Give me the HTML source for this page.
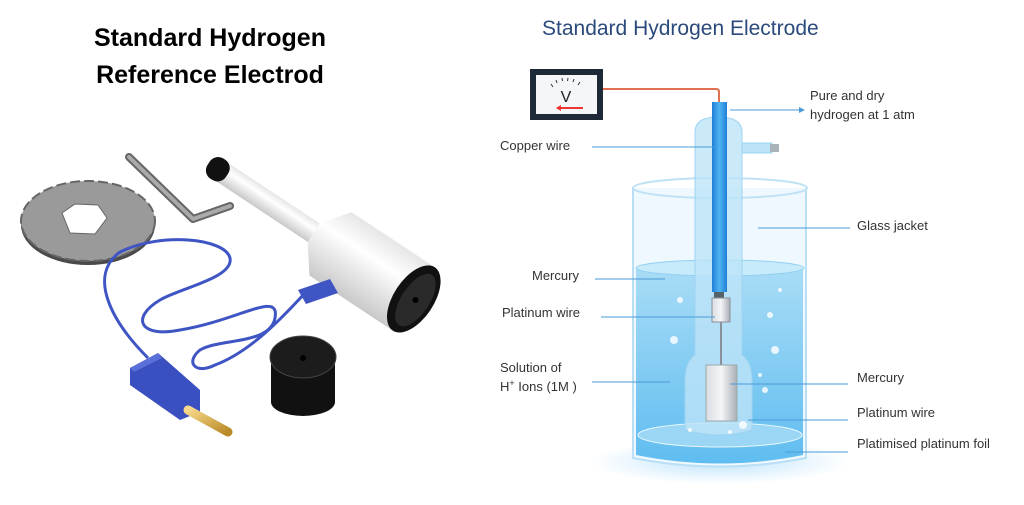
<!DOCTYPE html>
<html><head><meta charset="utf-8"><style>
html,body{margin:0;padding:0;background:#fff;}
svg{display:block;}
text{font-family:"Liberation Sans",sans-serif;}
</style></head><body>
<svg width="1024" height="505" viewBox="0 0 1024 505" xmlns="http://www.w3.org/2000/svg">
<defs>
<linearGradient id="tube" x1="0" x2="1"><stop offset="0" stop-color="#1f7fd6"/><stop offset="0.5" stop-color="#4fb4f2"/><stop offset="1" stop-color="#1f7fd6"/></linearGradient>
<linearGradient id="water" x1="0" y1="0" x2="0" y2="1"><stop offset="0" stop-color="#a9dcf6"/><stop offset="1" stop-color="#5fbdf0"/></linearGradient>
<linearGradient id="cyl" x1="0" x2="0" y1="0" y2="1"><stop offset="0" stop-color="#e6e6e6"/><stop offset="0.35" stop-color="#ffffff"/><stop offset="1" stop-color="#c9c9c9"/></linearGradient>
<linearGradient id="metal" x1="0" x2="1"><stop offset="0" stop-color="#d9dde2"/><stop offset="0.5" stop-color="#f4f5f7"/><stop offset="1" stop-color="#a9afb6"/></linearGradient>
<linearGradient id="gold" x1="0" x2="1" y1="0" y2="1"><stop offset="0" stop-color="#f7d98a"/><stop offset="1" stop-color="#b98a28"/></linearGradient>
<radialGradient id="glow" cx="0.5" cy="0.5" r="0.5"><stop offset="0" stop-color="#bfe4fb"/><stop offset="1" stop-color="#fff"/></radialGradient>
</defs>
<rect width="1024" height="505" fill="#fff"/>

<!-- LEFT -->
<text x="210" y="46" font-size="25" font-weight="bold" text-anchor="middle" fill="#000">Standard Hydrogen</text>
<text x="210" y="83" font-size="25" font-weight="bold" text-anchor="middle" fill="#000">Reference Electrod</text>

<!-- washer -->
<ellipse cx="88" cy="225" rx="67" ry="40" fill="#4a4a4a"/>
<ellipse cx="88" cy="221" rx="67" ry="40" fill="#9a9a9a" stroke="#666" stroke-dasharray="10 4" stroke-width="2"/>
<polygon points="62,213 75,204 98,205 107,218 95,234 70,233" fill="#fff" stroke="#666"/>
<!-- allen key -->
<polyline points="129,157 193,219 230,206" fill="none" stroke="#666" stroke-width="8" stroke-linejoin="round" stroke-linecap="round"/>
<polyline points="129,157 193,219 230,206" fill="none" stroke="#aaa" stroke-width="4" stroke-linejoin="round" stroke-linecap="round"/>
<!-- probe -->
<g transform="translate(222,172) rotate(33.5)">
<rect x="0" y="-11" width="120" height="22" fill="url(#cyl)"/>
<path d="M110,-11 L130,-38 L230,-38 L230,38 L130,38 L110,11 Z" fill="url(#cyl)"/>
<rect x="-16" y="-12" width="22" height="24" rx="10" fill="#111"/>
<ellipse cx="230" cy="0" rx="20" ry="38" fill="#111"/>
<ellipse cx="232" cy="0" rx="14" ry="30" fill="#2a2a2a"/>
<circle cx="232" cy="0" r="3" fill="#000"/>
</g>
<!-- cable -->
<path d="M148,358 C110,320 88,275 120,252 C160,232 225,238 230,258 C234,278 180,288 160,300 C130,318 140,338 180,330 C240,320 280,290 275,318 C270,345 220,338 200,350 C185,362 195,375 215,365 C250,352 282,318 305,293" fill="none" stroke="#3f55c4" stroke-width="3"/>
<polygon points="298,290 330,279 338,293 306,304" fill="#3f55c4"/>
<!-- banana plug -->
<polygon points="130,368 158,353 200,390 200,412 180,420 130,385" fill="#3a4fc0"/>
<polygon points="130,368 158,353 162,358 134,372" fill="#5a6fd8"/>
<line x1="188" y1="410" x2="228" y2="432" stroke="url(#gold)" stroke-width="9" stroke-linecap="round"/>
<!-- black knob -->
<rect x="271" y="357" width="64" height="45" fill="#111"/>
<ellipse cx="303" cy="402" rx="32" ry="14" fill="#111"/>
<ellipse cx="303" cy="357" rx="33" ry="21" fill="#1c1c1c" stroke="#444"/>
<circle cx="303" cy="358" r="3" fill="#000"/>

<!-- RIGHT -->
<text x="542" y="35" font-size="21" fill="#2b4a7c">Standard Hydrogen Electrode</text>
<ellipse cx="720" cy="462" rx="130" ry="22" fill="url(#glow)"/>
<!-- beaker -->
<path d="M633,188 L633,458 Q720,475 806,458 L806,188" fill="#eef8fe" stroke="#b9dff4" stroke-width="2"/>
<path d="M636,268 L636,455 Q720,472 803,455 L803,268 Z" fill="url(#water)"/>
<ellipse cx="720" cy="268" rx="84" ry="8" fill="#c7ebfb" stroke="#8fd0f2"/>
<ellipse cx="720" cy="435" rx="82" ry="12" fill="#9bd6f5" stroke="#e8f7ff"/>
<ellipse cx="720" cy="188" rx="87" ry="10" fill="none" stroke="#bfe2f5" stroke-width="2"/>
<!-- glass jacket -->
<path d="M695,132 Q695,117 718,117 Q742,117 742,132 L742,355 Q752,362 752,380 L752,430 Q720,440 685,430 L685,380 Q685,362 695,355 Z" fill="#bde3f8" fill-opacity="0.8" stroke="#9fd3f1"/>
<rect x="742" y="143" width="30" height="10" fill="#bde3f8" stroke="#9fd3f1"/>
<rect x="770" y="144" width="9" height="8" fill="#aab2ba"/>
<!-- inner tube -->
<rect x="712" y="102" width="15" height="190" fill="url(#tube)"/>
<rect x="714" y="292" width="10" height="8" fill="#222a"/>
<!-- platinum connector -->
<rect x="712" y="298" width="18" height="24" fill="url(#metal)" stroke="#8a9098"/>
<line x1="721" y1="322" x2="721" y2="365" stroke="#8a9098" stroke-width="2"/>
<rect x="706" y="365" width="31" height="56" fill="url(#metal)" stroke="#9aa"/>
<!-- bubbles -->
<g fill="#fff" fill-opacity="0.8">
<circle cx="680" cy="300" r="3"/><circle cx="770" cy="315" r="3"/><circle cx="775" cy="350" r="4"/><circle cx="674" cy="340" r="4"/><circle cx="765" cy="390" r="3"/><circle cx="743" cy="425" r="4"/><circle cx="760" cy="375" r="2"/><circle cx="690" cy="430" r="2"/><circle cx="730" cy="432" r="2"/><circle cx="780" cy="290" r="2"/>
</g>
<!-- voltmeter -->
<rect x="530" y="69" width="73" height="51" fill="#1f2a38"/>
<rect x="536" y="75" width="61" height="39" fill="#f4f6f8"/>
<text x="566" y="102" font-size="16" text-anchor="middle" fill="#222">V</text>
<line x1="557" y1="108" x2="583" y2="108" stroke="#e33" stroke-width="2"/>
<path d="M556,108 l5,-3 v6 z" fill="#e33"/>
<path d="M551,84 l2,3 M556,80 l1,3 M562,78 l0.5,3 M568,78 l-0.5,3 M574,79 l-1,3 M580,82 l-2,3" stroke="#333" stroke-width="1"/>
<path d="M603,89 L716,89 Q719,89 719,92 L719,102" fill="none" stroke="#e07050" stroke-width="2"/>

<!-- leader lines -->
<g stroke="#4a9bd8" stroke-width="1" fill="none">
<line x1="730" y1="110" x2="800" y2="110"/>
<line x1="592" y1="147" x2="714" y2="147"/>
<line x1="758" y1="228" x2="850" y2="228"/>
<line x1="595" y1="279" x2="665" y2="279"/>
<line x1="601" y1="317" x2="715" y2="317"/>
<line x1="592" y1="382" x2="670" y2="382"/>
<line x1="730" y1="384" x2="848" y2="384"/>
<line x1="748" y1="420" x2="848" y2="420"/>
<line x1="785" y1="452" x2="848" y2="452"/>
</g>
<path d="M805,110 l-6,-3 v6 z" fill="#4a9bd8"/>
<g font-size="13" fill="#333">
<text x="810" y="100">Pure and dry</text>
<text x="810" y="119">hydrogen at 1 atm</text>
<text x="500" y="150">Copper wire</text>
<text x="857" y="230">Glass jacket</text>
<text x="532" y="280">Mercury</text>
<text x="502" y="317">Platinum wire</text>
<text x="500" y="372">Solution of</text>
<text x="500" y="391">H<tspan font-size="9" dy="-5">+</tspan><tspan dy="5"> Ions (1M )</tspan></text>
<text x="857" y="382">Mercury</text>
<text x="857" y="417">Platinum wire</text>
<text x="857" y="448">Platimised platinum foil</text>
</g>
</svg>
</body></html>
